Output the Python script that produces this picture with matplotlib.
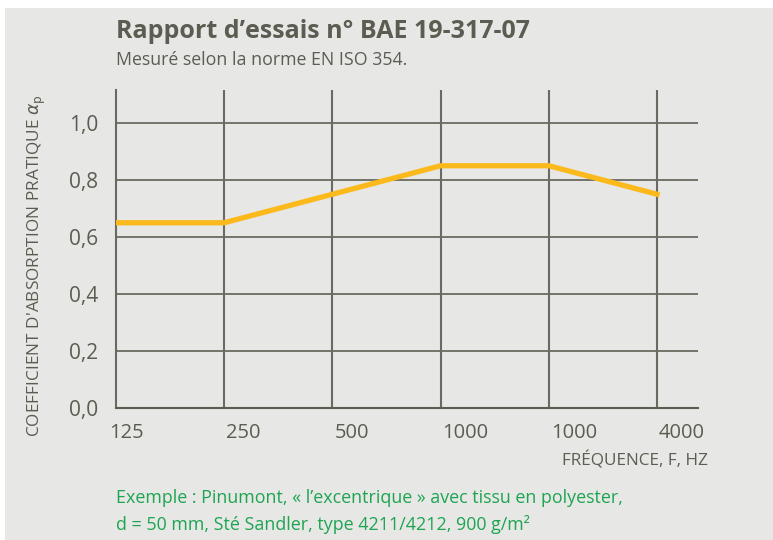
import matplotlib
matplotlib.use("Agg")
from matplotlib import pyplot as plt, patches, transforms

# data
freq_labels = ["125", "250", "500", "1000", "1000", "4000"]
alpha_p = [0.65, 0.65, 0.75, 0.85, 0.85, 0.75]
y_ticks = [0.0, 0.2, 0.4, 0.6, 0.8, 1.0]
y_tick_labels = ["0,0", "0,2", "0,4", "0,6", "0,8", "1,0"]

bg = "#e7e7e5"
dark = "#5c5c52"
grid_col = "#6a6a60"
orange = "#fbb91c"
green = "#1da552"

plt.rcParams["font.family"] = ["Open Sans", "DejaVu Sans"]

W, H = 773, 540
fig = plt.figure(figsize=(W / 100, H / 100), dpi=100)
fig.patch.set_facecolor("white")
fig.add_artist(patches.Rectangle((5 / W, 0), 1, 1 - 8 / H, transform=fig.transFigure,
                                 facecolor=bg, edgecolor="none", zorder=0))

# axes: x from 116 to 698 px, y from 90 to 408 px
left, right, top, bottom = 116, 698, 90, 408
ax = fig.add_axes([left / W, 1 - bottom / H, (right - left) / W, (bottom - top) / H])
ax.set_facecolor("none")

x = list(range(len(freq_labels)))
step = 108.2
ax.set_xlim(0, (right - left) / step)
ax.set_ylim(0, (bottom - top) / 285)

for yv in y_ticks[1:]:
    ax.axhline(yv, color=grid_col, lw=1.3, zorder=1)
for xv in x[1:]:
    ax.axvline(xv, color=grid_col, lw=1.5, zorder=1)

ax.plot(x, alpha_p, color=orange, lw=3.8, solid_joinstyle="miter", zorder=3)

for s in ["top", "right"]:
    ax.spines[s].set_visible(False)
ax.spines["left"].set_color(grid_col)
ax.spines["left"].set_linewidth(1.5)
ax.spines["bottom"].set_color(dark)
ax.spines["bottom"].set_linewidth(1.5)

ax.set_xticks(x)
ax.set_xticklabels(freq_labels, fontsize=14.5, color=dark, ha="left")
ax.set_yticks(y_ticks)
ax.set_yticklabels(y_tick_labels, fontsize=15, color=dark)
ax.tick_params(axis="both", length=0)
ax.tick_params(axis="x", pad=11)
ax.tick_params(axis="y", pad=13)
for i, lab in enumerate(ax.get_xticklabels()):
    dx = -7 if i == 0 else 2
    lab.set_transform(lab.get_transform() + transforms.ScaledTranslation(dx / 100, 0, fig.dpi_scale_trans))

# texts
fig.text(116 / W, 1 - 32 / H, "Rapport d\u2019essais n\u00b0 BAE 19-317-07", fontsize=18,
         fontweight="bold", color=dark, va="center", ha="left")
fig.text(116 / W, 1 - 60 / H, "Mesur\u00e9 selon la norme EN ISO 354.", fontsize=12.8,
         color=dark, va="center", ha="left")
fig.text(37 / W, 1 - 266 / H, r"COEFFICIENT D'ABSORPTION PRATIQUE $\alpha_\mathrm{p}$",
         fontsize=12.4, color=dark, rotation=90, va="center", ha="center")
fig.text(708 / W, 1 - 460 / H, "FR\u00c9QUENCE, F, HZ", fontsize=12.3, color=dark,
         va="center", ha="right")
fig.text(116 / W, 1 - 498 / H,
         "Exemple : Pinumont, \u00ab l\u2019excentrique \u00bb avec tissu en polyester,",
         fontsize=12.9, color=green, va="center", ha="left")
fig.text(116 / W, 1 - 525 / H,
         "d = 50 mm, St\u00e9 Sandler, type 4211/4212, 900 g/m\u00b2",
         fontsize=12.9, color=green, va="center", ha="left")

fig.savefig("out.png", dpi=100, facecolor=fig.get_facecolor())
